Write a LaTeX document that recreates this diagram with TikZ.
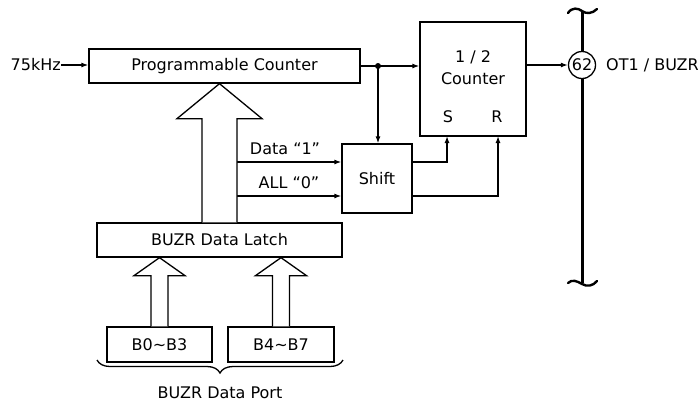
\documentclass[tikz,border=0pt]{standalone}
\usepackage{fontspec}
\setmainfont{DejaVu Sans}
\usetikzlibrary{arrows.meta,calc,decorations.pathreplacing}
\begin{document}
\begin{tikzpicture}[x=1pt,y=-1pt,
  every node/.style={font=\fontsize{16}{19}\selectfont, inner sep=0pt},
  blk/.style={draw, line width=1.3pt, minimum width=#1},
  conn/.style={line width=1.3pt},
  arr/.style={line width=1.3pt, -{Latex[length=7pt,width=5pt]}},
  hollow/.style={draw, line width=1.3pt, fill=white, line join=miter},
  bus/.style={line width=3pt},
  tilde/.style={line width=2.4pt, line cap=round}]
\useasboundingbox (0,0) rectangle (698,408);

% blocks
\node[blk=271pt, minimum height=34pt] (pc) at (224.5,66) {Programmable Counter};
\node[blk=106pt, minimum height=114pt] (half) at (473,79) {};
\node (halfa) at (473,57) {1 / 2};
\node (halfb) at (473,79) {Counter};
\node (sl) at (448,117) {S};
\node (rl) at (497,117) {R};
\node[blk=70pt, minimum height=69pt] (shift) at (377,178.5) {Shift};
\node[blk=245pt, minimum height=34pt] (latch) at (219.5,240) {BUZR Data Latch};
\node[blk=105pt, minimum height=35pt] (b03) at (159.5,344.5) {B0\char"223C B3};
\node[blk=106pt, minimum height=35pt] (b47) at (281,344.5) {B4\char"223C B7};

% pin
\coordinate (bt) at (582,12);
\coordinate (bb) at (582,283);
\draw[bus] (bt) -- (bb);
\draw[tilde] (568,13) .. controls (572,7) and (578,8) .. (582,11) .. controls (586,14) and (592,14) .. (597,9);
\draw[tilde] (568,283) .. controls (572,279) and (577,281) .. (582,284) .. controls (587,287) and (593,286) .. (597,281);
\node[draw, circle, line width=1.3pt, fill=white, minimum size=27pt] (pin) at (582,65) {62};
\node[anchor=west] (ot) at (606,65) {OT1 / BUZR};

% input
\node[anchor=east] (in) at (61,65) {75kHz};
\draw[arr] (in.east) -- (in.east -| pc.west);

% pc -> half counter
\coordinate (j) at (378,66);
\draw[arr] (pc.east |- j) -- (j -| half.west);
\fill (j) circle (3pt);
\draw[arr] (j) -- (j |- shift.north);

% half -> pin
\draw[arr] (half.east |- pin) -- (pin.west);

% data lines
\coordinate (d1) at (237,162);
\coordinate (a0) at (237,196);
\draw[arr] (d1) -- (d1 -| shift.west);
\draw[arr] (a0) -- (a0 -| shift.west);
\node (d1l) at (285,149) {Data “1”};
\node (a0l) at (289,183) {ALL “0”};

% shift -> S, R
\coordinate (sin) at (447,136);
\coordinate (rin) at (498,136);
\draw[arr] (shift.east |- d1) -| (sin);
\draw[arr] (shift.east |- a0) -| (rin);

% hollow arrows
\path let \p1=(latch.north), \p2=(pc.south) in
  coordinate (ha) at (\x1,\y2) coordinate (hb) at (\x1,\y1);
\draw[hollow] ($(hb)+(-17.5,0)$) -- ($(ha)+(-17.5,35)$) -- ($(ha)+(-42.5,35)$) -- (ha)
  -- ($(ha)+(42.5,35)$) -- ($(ha)+(17.5,35)$) -- ($(hb)+(17.5,0)$);

\path let \p1=(b03.north), \p2=(latch.south) in
  coordinate (la) at (\x1,\y2) coordinate (lb) at (\x1,\y1);
\draw[hollow] ($(lb)+(-8.5,0)$) -- ($(la)+(-8.5,18)$) -- ($(la)+(-25.5,18)$) -- (la)
  -- ($(la)+(25.5,18)$) -- ($(la)+(8.5,18)$) -- ($(lb)+(8.5,0)$);

\path let \p1=(b47.north), \p2=(latch.south) in
  coordinate (ra) at (\x1,\y2) coordinate (rb) at (\x1,\y1);
\draw[hollow] ($(rb)+(-8.5,0)$) -- ($(ra)+(-8.5,18)$) -- ($(ra)+(-25.5,18)$) -- (ra)
  -- ($(ra)+(25.5,18)$) -- ($(ra)+(8.5,18)$) -- ($(rb)+(8.5,0)$);

% brace
\coordinate (br1) at (343,360);
\coordinate (br2) at (97,360);
\draw[line width=1.3pt, decorate, decoration={brace, amplitude=13pt}] (br1) -- (br2);
\node (port) at (220,393) {BUZR Data Port};
\end{tikzpicture}
\end{document}
